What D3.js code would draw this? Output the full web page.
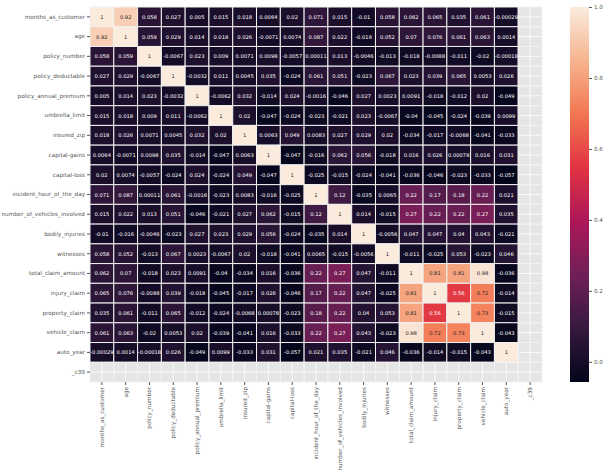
<!DOCTYPE html>
<html>
<head>
<meta charset="utf-8">
<script src="https://cdn.jsdelivr.net/npm/d3@7.9.0/dist/d3.min.js"></script>
<style>
  body { margin: 0; background: #fff; }
  text { font-family: "DejaVu Sans", sans-serif; }
</style>
</head>
<body>
<div id="chart"></div>
<script>
// Variable names (rows and columns are the same)
const variables = [
  "months_as_customer", "age", "policy_number", "policy_deductable",
  "policy_annual_premium", "umbrella_limit", "insured_zip", "capital-gains",
  "capital-loss", "incident_hour_of_the_day", "number_of_vehicles_involved",
  "bodily_injuries", "witnesses", "total_claim_amount", "injury_claim",
  "property_claim", "vehicle_claim", "auto_year", "_c39"
];

// Correlation values, one row per variable (_c39 is all empty)
const corrValues = [
  [1, 0.92, 0.058, 0.027, 0.005, 0.015, 0.018, 0.0064, 0.02, 0.071, 0.015, -0.01, 0.058, 0.062, 0.065, 0.035, 0.061, -0.00029, null],
  [0.92, 1, 0.059, 0.029, 0.014, 0.018, 0.026, -0.0071, 0.0074, 0.087, 0.022, -0.016, 0.052, 0.07, 0.076, 0.061, 0.063, 0.0014, null],
  [0.058, 0.059, 1, -0.0067, 0.023, 0.009, 0.0071, 0.0098, -0.0057, 0.00011, 0.013, -0.0046, -0.013, -0.018, -0.0088, -0.011, -0.02, -0.00018, null],
  [0.027, 0.029, -0.0067, 1, -0.0032, 0.011, 0.0045, 0.035, -0.024, 0.061, 0.051, -0.023, 0.067, 0.023, 0.039, 0.065, 0.0053, 0.026, null],
  [0.005, 0.014, 0.023, -0.0032, 1, -0.0062, 0.032, -0.014, 0.024, -0.0016, -0.046, 0.027, 0.0023, 0.0091, -0.018, -0.012, 0.02, -0.049, null],
  [0.015, 0.018, 0.009, 0.011, -0.0062, 1, 0.02, -0.047, -0.024, -0.023, -0.021, 0.023, -0.0067, -0.04, -0.045, -0.024, -0.039, 0.0099, null],
  [0.018, 0.026, 0.0071, 0.0045, 0.032, 0.02, 1, 0.0063, 0.049, 0.0083, 0.027, 0.029, 0.02, -0.034, -0.017, -0.0068, -0.041, -0.033, null],
  [0.0064, -0.0071, 0.0098, 0.035, -0.014, -0.047, 0.0063, 1, -0.047, -0.016, 0.062, 0.056, -0.018, 0.016, 0.026, 0.00078, 0.016, 0.031, null],
  [0.02, 0.0074, -0.0057, -0.024, 0.024, -0.024, 0.049, -0.047, 1, -0.025, -0.015, -0.024, -0.041, -0.036, -0.046, -0.023, -0.033, -0.057, null],
  [0.071, 0.087, 0.00011, 0.061, -0.0016, -0.023, 0.0083, -0.016, -0.025, 1, 0.12, -0.035, 0.0065, 0.22, 0.17, 0.18, 0.22, 0.021, null],
  [0.015, 0.022, 0.013, 0.051, -0.046, -0.021, 0.027, 0.062, -0.015, 0.12, 1, 0.014, -0.015, 0.27, 0.22, 0.22, 0.27, 0.035, null],
  [-0.01, -0.016, -0.0046, -0.023, 0.027, 0.023, 0.029, 0.056, -0.024, -0.035, 0.014, 1, -0.0056, 0.047, 0.047, 0.04, 0.043, -0.021, null],
  [0.058, 0.052, -0.013, 0.067, 0.0023, -0.0067, 0.02, -0.018, -0.041, 0.0065, -0.015, -0.0056, 1, -0.011, -0.025, 0.053, -0.023, 0.046, null],
  [0.062, 0.07, -0.018, 0.023, 0.0091, -0.04, -0.034, 0.016, -0.036, 0.22, 0.27, 0.047, -0.011, 1, 0.81, 0.81, 0.98, -0.036, null],
  [0.065, 0.076, -0.0088, 0.039, -0.018, -0.045, -0.017, 0.026, -0.046, 0.17, 0.22, 0.047, -0.025, 0.81, 1, 0.56, 0.72, -0.014, null],
  [0.035, 0.061, -0.011, 0.065, -0.012, -0.024, -0.0068, 0.00078, -0.023, 0.18, 0.22, 0.04, 0.053, 0.81, 0.56, 1, 0.73, -0.015, null],
  [0.061, 0.063, -0.02, 0.0053, 0.02, -0.039, -0.041, 0.016, -0.033, 0.22, 0.27, 0.043, -0.023, 0.98, 0.72, 0.73, 1, -0.043, null],
  [-0.00029, 0.0014, -0.00018, 0.026, -0.049, 0.0099, -0.033, 0.031, -0.057, 0.021, 0.035, -0.021, 0.046, -0.036, -0.014, -0.015, -0.043, 1, null],
  [null, null, null, null, null, null, null, null, null, null, null, null, null, null, null, null, null, null, null]
];

const colorbarTicks = [0.0, 0.2, 0.4, 0.6, 0.8, 1.0];

// rocket colormap stops
const rocketStops = ["#03051a", "#35193e", "#701f57", "#ad1759", "#e13342", "#f37651", "#f6b48f", "#faebdd"];

const W = 605, H = 472;
const plot = {left: 90, top: 7, right: 542, bottom: 382};

const svg = d3.select("#chart")
    .append("svg")
    .attr("width", W)
    .attr("height", H);

const x = d3.scaleBand().domain(variables).range([plot.left, plot.right]);
const y = d3.scaleBand().domain(variables).range([plot.top, plot.bottom]);

const allVals = corrValues.flat().filter(v => v != null);
const vmin = d3.min(allVals), vmax = d3.max(allVals);

const rocket = d3.scaleLinear()
    .domain(rocketStops.map((_, i) => i / (rocketStops.length - 1)))
    .range(rocketStops)
    .interpolate(d3.interpolateRgb);
const color = v => rocket((v - vmin) / (vmax - vmin));

// grey background with white grid (ggplot style)
svg.append("rect")
    .attr("x", plot.left).attr("y", plot.top)
    .attr("width", plot.right - plot.left).attr("height", plot.bottom - plot.top)
    .attr("fill", "#e5e5e5");

const grid = svg.append("g").attr("stroke", "#fff").attr("stroke-width", 0.8);
variables.forEach(v => {
    grid.append("line")
        .attr("x1", x(v) + x.bandwidth() / 2).attr("x2", x(v) + x.bandwidth() / 2)
        .attr("y1", plot.top).attr("y2", plot.bottom);
    grid.append("line")
        .attr("y1", y(v) + y.bandwidth() / 2).attr("y2", y(v) + y.bandwidth() / 2)
        .attr("x1", plot.left).attr("x2", plot.right);
});

// cells
const cells = [];
corrValues.forEach((row, i) => row.forEach((v, j) => {
    cells.push({row: variables[i], col: variables[j], value: v});
}));

svg.append("g")
    .selectAll("rect")
    .data(cells)
    .join("rect")
    .attr("x", d => x(d.col))
    .attr("y", d => y(d.row))
    .attr("width", x.bandwidth())
    .attr("height", y.bandwidth())
    .attr("fill", d => d.value == null ? "none" : color(d.value))
    .attr("stroke", "#f2f2f2")
    .attr("stroke-width", 1);

// annotations
const fmt = v => d3.format(".2~g")(v).replace("−", "-");
function textColor(v) {
    const c = d3.rgb(color(v));
    const lum = 0.2126 * c.r / 255 + 0.7152 * c.g / 255 + 0.0722 * c.b / 255;
    return lum > 0.408 ? "#262626" : "#ffffff";
}

svg.append("g")
    .selectAll("text")
    .data(cells.filter(d => d.value != null))
    .join("text")
    .attr("x", d => x(d.col) + x.bandwidth() / 2)
    .attr("y", d => y(d.row) + y.bandwidth() / 2)
    .attr("text-anchor", "middle")
    .attr("dominant-baseline", "central")
    .attr("font-size", 5.2)
    .attr("fill", d => textColor(d.value))
    .text(d => fmt(d.value));

// Y axis
svg.append("g")
    .attr("transform", `translate(${plot.left},0)`)
    .call(d3.axisLeft(y).tickSize(3).tickPadding(2))
    .call(g => g.select(".domain").remove())
    .call(g => g.selectAll("line").attr("stroke", "#555"))
    .call(g => g.selectAll("text").attr("fill", "#555").attr("font-size", 5.7).attr("font-family", "DejaVu Sans"));

// X axis (rotated labels)
svg.append("g")
    .attr("transform", `translate(0,${plot.bottom})`)
    .call(d3.axisBottom(x).tickSize(3).tickPadding(2))
    .call(g => g.select(".domain").remove())
    .call(g => g.selectAll("line").attr("stroke", "#555"))
    .call(g => g.selectAll("text")
        .attr("fill", "#555")
        .attr("font-size", 5.7)
        .attr("font-family", "DejaVu Sans")
        .attr("text-anchor", "end")
        .attr("dy", "0.35em")
        .attr("transform", "translate(0,5) rotate(-90)")
        .attr("x", 0).attr("y", 0));

// Colorbar
const cb = {x: 570, w: 19, top: 7, bottom: 382};
const cbScale = d3.scaleLinear().domain([vmin, vmax]).range([cb.bottom, cb.top]);

const grad = svg.append("defs").append("linearGradient")
    .attr("id", "rocketGrad")
    .attr("x1", 0).attr("y1", 1).attr("x2", 0).attr("y2", 0);
d3.range(0, 1.0001, 0.02).forEach(t => {
    grad.append("stop").attr("offset", t).attr("stop-color", rocket(t));
});

svg.append("rect")
    .attr("x", cb.x).attr("y", cb.top)
    .attr("width", cb.w).attr("height", cb.bottom - cb.top)
    .attr("fill", "url(#rocketGrad)");

svg.append("g")
    .attr("transform", `translate(${cb.x + cb.w},0)`)
    .call(d3.axisRight(cbScale).tickValues(colorbarTicks).tickFormat(d3.format(".1f")).tickSize(3).tickPadding(2))
    .call(g => g.select(".domain").remove())
    .call(g => g.selectAll("line").attr("stroke", "#555"))
    .call(g => g.selectAll("text").attr("fill", "#555").attr("font-size", 5.6).attr("font-family", "DejaVu Sans"));
</script>
</body>
</html>
